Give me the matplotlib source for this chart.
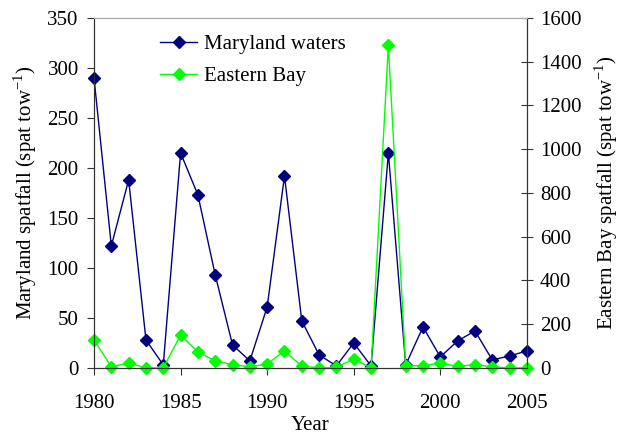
import matplotlib
matplotlib.use('Agg')

import numpy as np
import matplotlib.pyplot as plt

plt.rcParams['font.family'] = ['Liberation Serif', 'DejaVu Serif']
plt.rcParams['mathtext.fontset'] = 'custom'
plt.rcParams['mathtext.rm'] = 'Liberation Serif'

years = list(range(1980, 2006))
maryland = [290, 122, 188, 28, 3, 215, 173, 93, 23, 7, 61, 192, 47, 13, 2,
            25, 2, 215, 3, 41, 11, 27, 37, 8, 12, 17]
eastern_bay = [128, 5, 23, 0, 0, 150, 73, 32, 15, 5, 18, 78, 8, 0, 2,
               41, 0, 1475, 9, 10, 22, 7, 15, 5, 0, 0]

fig = plt.figure(figsize=(6.31, 4.38), dpi=100)
ax = fig.add_axes([0.149, 0.160, 0.686, 0.799])
ax2 = ax.twinx()

ax.plot(years, maryland, color='#000080', marker='D', markersize=6.5, lw=1,
        label='Maryland waters', clip_on=False)
ax2.plot(years, eastern_bay, color='#00ff00', marker='D', markersize=6.5, lw=1,
         label='Eastern Bay', clip_on=False)

ax.set_xlim(1980, 2005)
ax.set_ylim(0, 350)
ax2.set_ylim(0, 1600)
ax.set_xticks(range(1980, 2006, 5))
ax.set_yticks(range(0, 351, 50))
ax2.set_yticks(range(0, 1601, 200))

fs = 15
ax.tick_params(axis='both', direction='out', length=5, pad=6, labelsize=fs,
               top=False, color='#333333')
ax.tick_params(axis='x', pad=14)
ax2.tick_params(axis='y', direction='inout', length=9, pad=5, labelsize=fs,
                color='#333333')
ax.set_xlabel('Year', fontsize=fs, labelpad=2)
ax.set_ylabel('Maryland spatfall (spat tow$^{-1}$)', fontsize=fs, labelpad=6)
ax2.set_ylabel('Eastern Bay spatfall (spat tow$^{-1}$)', fontsize=fs, labelpad=8)

for a in (ax, ax2):
    a.spines['top'].set_color('#aaaaaa')
    a.spines['right'].set_color('#333333')
    a.spines['left'].set_color('#333333')
    a.spines['bottom'].set_color('#333333')

h1, l1 = ax.get_legend_handles_labels()
h2, l2 = ax2.get_legend_handles_labels()
ax2.legend(h1 + h2, l1 + l2, loc='upper left', bbox_to_anchor=(0.152, 0.953),
           frameon=False, fontsize=fs, handlelength=1.8, handletextpad=0.3,
           labelspacing=0.6, borderpad=0, borderaxespad=0)

plt.savefig('out.png', dpi=100)
